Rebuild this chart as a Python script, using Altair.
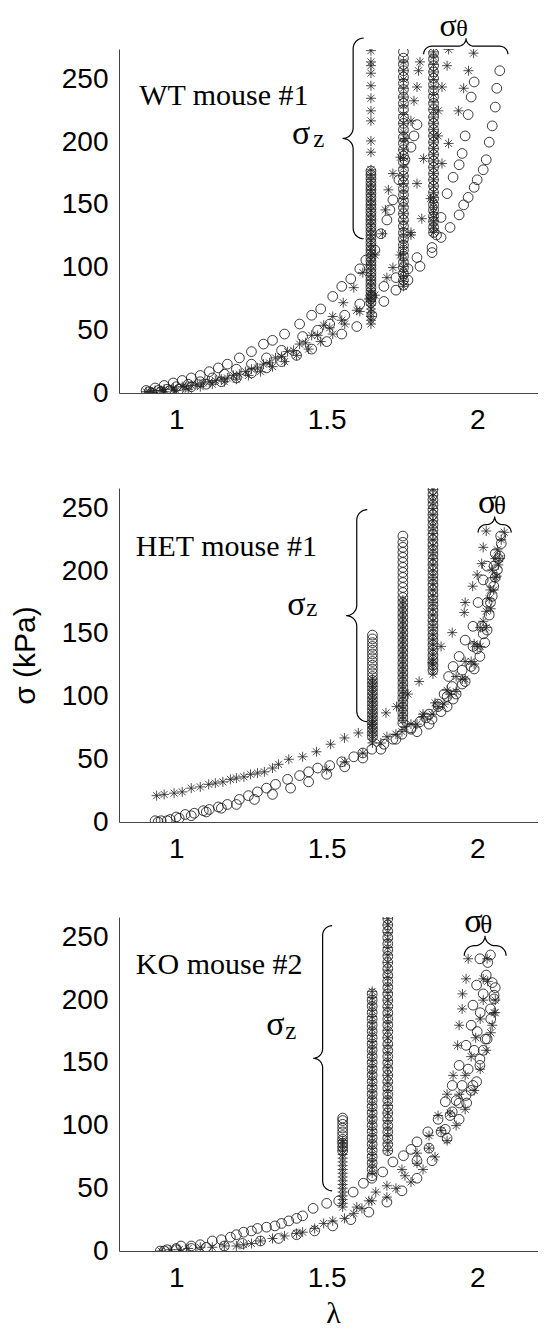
import altair as alt
import pandas as pd
import numpy as np

# ---------------- data ----------------
X_TICKS = [1, 1.5, 2]
Y_TICKS = [0, 50, 100, 150, 200, 250]

# ---- WT mouse #1 ----
WT_LZ = [1.647, 1.755, 1.855]
WT_C1_L = [0.90,0.93,0.96,0.99,1.02,1.05,1.08,1.11,1.14,1.17,1.21,1.25,1.29,1.32,1.36,1.41,1.45,1.48,1.52,1.55,1.58,1.61,1.63,1.66,1.68,1.70,1.71,1.72,1.74,1.76,1.78,1.79,1.80]
WT_C1_S = [2,4,6,8,10,12,14,17,20,23,28,33,39,42,47,55,62,67,77,85,91,99,106,114,127,138,146,154,170,186,196,205,214]
WT_C2_L = [0.91,0.94,0.97,1.00,1.04,1.08,1.12,1.16,1.20,1.25,1.30,1.35,1.42,1.47,1.51,1.56,1.61,1.65,1.69,1.73,1.77,1.80,1.85,1.865,1.88,1.90,1.92,1.94,1.95,1.96,1.97,1.98,1.99]
WT_C2_S = [1,2,3,5,7,9,12,15,19,23,28,34,45,50,55,62,71,77,85,92,99,108,116,126,140,159,172,182,191,205,222,236,248]
WT_C3_L = [0.92,0.95,0.98,1.01,1.05,1.10,1.15,1.20,1.25,1.30,1.35,1.40,1.45,1.50,1.55,1.60,1.65,1.69,1.73,1.77,1.81,1.85,1.88,1.91,1.94,1.955,1.97,1.99,2.00,2.02,2.03,2.04,2.05,2.06,2.065,2.075]
WT_C3_S = [0,1,2,3,5,7,9,12,16,20,25,30,35,41,47,53,62,73,82,90,101,112,124,132,142,150,156,164,170,178,186,200,213,228,243,257]
WT_CZ1 = [72,75,78,81,84,87,90,93,96,99,102,105,108,111,114,117,120,123,126,129,132,135,138,141,144,147,150,153,156,159,162,165,168,171,174,177]
WT_CZ2 = [86,90,95,100,104,109,114,118,123,128,133,138,143,148,153,158,163,168,173,178,184,189,194,199,204,210,215,220,226,231,236,242,247,252,257,262,267,272]
WT_CZ3 = [128,132,137,141,146,150,155,160,165,170,175,180,185,190,195,200,205,210,215,220,226,231,236,241,246,251,256,261,266,271]
WT_S1_L = [0.90,0.93,0.96,0.99,1.02,1.05,1.09,1.13,1.17,1.21,1.25,1.29,1.33,1.37,1.41,1.45,1.49,1.52,1.555,1.59,1.62,1.66,1.685,1.695,1.705,1.72,1.745,1.76,1.78,1.79,1.80,1.805,1.81]
WT_S1_S = [1,2,3,4,5,6,8,10,12,15,19,23,28,33,39,46,54,61,72,84,96,110,127,146,162,175,188,203,217,233,244,257,264]
WT_S2_L = [0.91,0.95,0.99,1.03,1.07,1.11,1.15,1.19,1.23,1.27,1.31,1.35,1.39,1.43,1.47,1.51,1.55,1.60,1.64,1.70,1.745,1.78,1.816,1.845,1.883,1.905,1.871,1.883,1.90,1.905]
WT_S2_S = [1,2,3,5,7,9,11,14,17,20,24,29,34,40,46,52,58,66,75,92,110,126,139,155,183,199,225,244,261,274]
WT_S3_L = [0.92,0.96,1.00,1.04,1.08,1.12,1.16,1.20,1.24,1.28,1.32,1.36,1.40,1.44,1.48,1.52,1.56,1.61,1.66,1.72,1.78,1.80,1.822,1.87,1.938,1.955,1.971,1.988]
WT_S3_S = [0,1,2,3,5,7,9,11,14,17,21,25,30,35,41,47,55,65,78,100,128,167,187,205,225,243,257,271]
WT_SZ1 = [55,58,61,64,67,70,73,76,79,82,86,90,94,98,102,106,110,114,118,122,126,130,134,138,142,146,150,154,158,162,166,170,174,178,192,201,217,225,235,245,255,261,264,273]
WT_SZ2 = [85,89,93,97,101,106,111,116,121,126,131,137,143,149,155,161,167,173,180,187,194,201,208,215,222,229,236,243,250,257,264]
WT_SZ3 = [128,131,134,137,140,144,148,152,156,160,165,170,175,180,185,190,195,200,205,210,215,220,226,232,238,244,250,256,262,268,272]

# ---- HET mouse #1 ----
HET_LZ = [1.652, 1.753, 1.853]
HET_C1_L = [0.93,0.95,0.98,1.00,1.03,1.06,1.09,1.11,1.14,1.17,1.21,1.24,1.27,1.30,1.33,1.37,1.41,1.44,1.47,1.51,1.55,1.59,1.62,1.65,1.69,1.72,1.75,1.78,1.81,1.84,1.87,1.89,1.905,1.92,1.94,1.96,1.986,2.003,2.02,2.033]
HET_C1_S = [1,1,2,4,6,7,9,10,12,14,18,21,24,27,30,34,37,40,43,45,48,52,55,58,62,66,70,75,80,86,94,102,116,124,132,145,156,175,193,204]
HET_C2_L = [0.94,0.97,1.01,1.05,1.10,1.15,1.20,1.26,1.32,1.38,1.44,1.50,1.56,1.62,1.68,1.73,1.78,1.83,1.87,1.90,1.917,1.95,1.986,2.015,2.033,2.044,2.056,2.06,2.078]
HET_C2_S = [0,1,3,5,8,11,14,18,22,27,32,38,44,51,58,66,74,83,92,100,108,121,140,156,175,191,204,214,228]
HET_C3_L = [1.80,1.85,1.90,1.93,1.96,1.99,2.009,2.025,2.033,2.044,2.055,2.067,2.075,2.08]
HET_C3_S = [72,82,92,102,112,122,132,143,153,175,188,201,212,222]
HET_C4_L = [1.84,1.88,1.92,1.95,1.98,2.00,2.02,2.04,2.05,2.06,2.07]
HET_C4_S = [78,88,98,110,124,138,150,165,180,195,210]
HET_CZ1 = [68,71,74,77,80,83,86,89,92,95,98,101,104,107,110,113,116,119,122,125,128,131,134,137,140,143,146,149]
HET_CZ2 = [79,83,87,91,95,99,103,107,111,115,119,123,127,131,135,139,143,147,151,155,159,163,167,171,175,179,183,187,191,195,199,203,207,211,215,219,223,228]
HET_CZ3 = [121,125,129,133,137,141,145,149,153,157,161,165,169,173,177,181,185,189,193,197,201,205,209,213,217,221,225,229,233,237,241,245,249,253,257,261,265]
HET_S1_L = [0.935,0.96,0.993,1.02,1.05,1.08,1.108,1.13,1.155,1.18,1.20,1.225,1.247,1.27,1.293,1.32,1.34,1.374,1.42,1.466,1.513,1.559,1.605,1.65,1.697,1.732,1.77,1.807,1.85,1.88,1.917,1.957,1.96,1.985,2.0,2.015,2.02,2.03]
HET_S1_S = [21,22,23,24,27,28,30,31,32,34,35,36,38,39,40,43,46,50,52,56,62,67,71,78,87,92,102,112,127,140,151,167,175,188,197,206,219,232]
HET_S2_L = [1.50,1.56,1.62,1.68,1.73,1.78,1.82,1.86,1.90,1.93,1.96,1.99,2.01,2.03,2.044,2.05,2.06,2.067,2.08,2.09]
HET_S2_S = [42,48,55,63,70,78,86,95,105,116,128,142,155,168,185,201,210,217,225,231]
HET_S3_L = [1.75,1.80,1.85,1.89,1.93,1.96,1.99,2.01,2.03,2.045,2.055,2.065,2.075]
HET_S3_S = [72,78,86,94,104,114,126,140,155,170,185,196,210]
HET_S4_L = [1.70,1.76,1.82,1.87,1.91,1.95,1.98,2.00,2.02,2.04,2.06,2.07]
HET_S4_S = [68,76,84,92,102,114,128,140,160,178,195,205]
HET_SZ1 = [63,66,69,72,75,78,81,84,87,90,93,96,99,102,105,108,111,114]
HET_SZ2 = [81,85,89,93,97,101,105,109,113,117,121,125,129,133,137,141,145,149,153,157,161,165,169,173,177]
HET_SZ3 = [118,122,126,130,134,138,142,146,150,155,160,165,170,175,180,185,190,195,200,205,210,215,220,225,230,235,240,245,250,255,260,265]

# ---- KO mouse #2 ----
KO_LZ = [1.553, 1.651, 1.703]
KO_C1_L = [0.947,0.97,1.00,1.016,1.05,1.08,1.12,1.15,1.18,1.20,1.224,1.25,1.27,1.30,1.328,1.35,1.374,1.40,1.42,1.455,1.50,1.54,1.588,1.622,1.65,1.686,1.72,1.755,1.78,1.80,1.836,1.87,1.894,1.917,1.94,1.963,1.98,1.986,1.998,2.009]
KO_C1_S = [0,1,2,4,4,5,8,9,11,13,15,16,18,19,20,22,24,26,28,34,38,40,47,54,58,63,71,76,81,87,95,105,119,132,148,164,180,196,212,233]
KO_C2_L = [0.96,1.00,1.05,1.10,1.16,1.22,1.28,1.34,1.40,1.46,1.52,1.58,1.64,1.70,1.75,1.80,1.85,1.90,1.94,1.965,1.986,2.009,2.027,2.044,2.056,2.05,2.044]
KO_C2_S = [0,1,2,3,4,6,8,10,13,16,20,25,31,39,48,58,72,90,105,118,132,148,169,193,204,214,236]
KO_C3_L = [1.894,1.917,1.94,1.963,1.98,1.998,2.009,2.02,2.033,2.045,2.056,2.06]
KO_C3_S = [97,111,118,124,128,135,153,160,169,185,201,210]
KO_C4_L = [1.80,1.84,1.88,1.91,1.93,1.95,1.97,1.99,2.00,2.01,2.02,2.03,2.035]
KO_C4_S = [72,82,95,108,120,132,145,160,175,190,205,220,230]
KO_CZ1 = [80,83,86,89,92,95,98,101,104,106]
KO_CZ2 = [60,65,70,75,80,85,90,95,100,105,110,115,120,125,130,135,140,145,150,155,160,165,170,175,180,185,190,195,200,205]
KO_CZ3 = [80,85,90,95,100,105,110,115,120,125,130,135,140,145,150,155,160,165,170,175,180,185,190,195,200,205,210,215,220,225,230,235,240,245,250,255,260,265]
KO_S1_L = [0.95,0.98,1.01,1.04,1.08,1.12,1.16,1.20,1.224,1.25,1.28,1.32,1.36,1.40,1.42,1.46,1.49,1.52,1.559,1.59,1.617,1.64,1.663,1.70,1.73]
KO_S1_S = [0,1,1,2,3,3,4,4,5,6,8,10,12,14,15,18,22,24,26,30,34,40,47,43,50]
KO_S2_L = [1.60,1.65,1.70,1.75,1.80,1.84,1.87,1.90,1.92,1.935,1.94,1.95,1.951,1.963,1.97]
KO_S2_S = [35,40,52,65,78,92,108,125,140,164,180,193,205,217,233]
KO_S3_L = [1.78,1.82,1.86,1.90,1.93,1.96,1.99,2.01,2.03,2.045,2.056,2.06,2.033,2.02]
KO_S3_S = [55,65,75,88,100,113,128,145,160,174,190,200,233,217]
KO_S4_L = [1.76,1.80,1.84,1.88,1.91,1.94,1.96,1.98,1.995,2.01,2.02,2.035,2.05,2.06]
KO_S4_S = [60,70,82,96,110,125,140,155,170,185,200,215,180,190]
KO_SZ1 = [35,38,41,44,47,50,53,56,59,62,65,68,71,74,77,80,83,86,88]
KO_SZ2 = [62,67,72,77,82,87,92,97,102,107,112,117,122,127,132,137,142,147,152,157,162,167,172,177,182,187,192,197,202,207]
KO_SZ3 = [80,86,92,98,104,110,116,122,128,134,140,146,152,158,164,170,176,182,188,194,200,206,212,218,224,230,236,242,248,254,260,265]

# annotation anchors (data coordinates): label, sigma_z, sigma_theta (+font sizes), braces
WT_TXT = dict(label=("WT mouse #1", 0.877, 230), sz=(1.385, 198.5, 1.455, 196.5),
              st=(1.875, 284.4, 1.93, 284.4, 32, 24),
              vb=(1.553, 203, 283, 123, 21), hb=(1.963, 282.9, 1.822, 2.102, 16))
HET_TXT = dict(label=("HET mouse #1", 0.866, 212.4), sz=(1.369, 165.3, 1.432, 164),
               st=(2.003, 246.7, 2.056, 245.5, 34, 25),
               vb=(1.565, 164.5, 249, 80, 21), hb=(2.058, 243.5, 2.003, 2.113, 16))
KO_TXT = dict(label=("KO mouse #2", 0.866, 221.1), sz=(1.299, 171.9, 1.362, 169.3),
              st=(1.957, 254.4, 2.01, 253.5, 34, 25),
              vb=(1.455, 153.7, 259.4, 48, 19), hb=(2.026, 251.4, 1.957, 2.096, 20))

# ---------------- helpers ----------------
PX_L = 301.0   # px per unit of lambda (for brace geometry)
PX_S = 1.254   # px per kPa
XDOM = [0.81, 2.202]
STAR = "M0,-1L0,1M-1,0L1,0M-0.7,-0.7L0.7,0.7M-0.7,0.7L0.7,-0.7"
SERIF = "Liberation Serif"
SANS = "Liberation Sans"


def pts(lams, sigs):
    n = min(len(lams), len(sigs))
    return [{"lam": lams[i], "sig": sigs[i]} for i in range(n)]


def col(lam, sigs):
    return [{"lam": lam, "sig": s} for s in sigs]


def half(h, d, n=10):
    r = d / 2.0
    t = np.linspace(0, np.pi / 2, n)
    p = [(h - r + r * np.cos(a), d - r * np.sin(a)) for a in t]
    p += [(r + (h - 2 * r) * (1 - k), r) for k in np.linspace(0, 1, 4)]
    p += [(r - r * np.sin(a), r * np.cos(a)) for a in t]
    return p


def brace_shape(h_up, h_dn, d):
    """(along, across) px points from the 'up' end through the tip to the 'down' end."""
    return half(h_up, d) + [(-a, c) for (a, c) in reversed(half(h_dn, d))]


def braces(spec, key):
    rows = []
    lt, sm, stop, sbot, d = spec["vb"]
    for k, (a, c) in enumerate(brace_shape((stop - sm) * PX_S, (sm - sbot) * PX_S, d)):
        rows.append({"lam": lt + c / PX_L, "sig": sm + a / PX_S, "k": k, "bid": key + "v"})
    lt, st, l0, l1, d = spec["hb"]
    for k, (a, c) in enumerate(brace_shape((l1 - lt) * PX_L, (lt - l0) * PX_L, d)):
        rows.append({"lam": lt + a / PX_L, "sig": st - c / PX_S, "k": k, "bid": key + "h"})
    return pd.DataFrame(rows)


def panel(circ, star, spec, key, ymax, height, ytitle_vis, xtitle):
    x = alt.X("lam:Q", scale=alt.Scale(domain=XDOM, nice=False, zero=False),
              axis=alt.Axis(values=X_TICKS, format="~g", ticks=False, grid=False, labelFont=SANS,
                            labelFontSize=28, labelColor="black", labelPadding=13,
                            domainColor="#444", domainWidth=1, title=xtitle, titleFont=SERIF,
                            titleFontSize=30, titleFontWeight="normal", titleColor="black",
                            titlePadding=6, titleX=214))
    y = alt.Y("sig:Q", scale=alt.Scale(domain=[0, ymax], nice=False, zero=False),
              axis=alt.Axis(values=Y_TICKS, ticks=False, grid=False, labelFont=SANS, labelFontSize=28,
                            labelColor="black", labelPadding=11, domainColor="#444", domainWidth=1,
                            title="σ (kPa)", titleFont=SANS, titleFontSize=30, titleFontWeight="normal",
                            titleColor="black", titlePadding=21, titleOpacity=1 if ytitle_vis else 0))
    c = alt.Chart(pd.DataFrame(circ)).mark_point(shape="circle", filled=False, size=95, strokeWidth=0.85,
                                                 color="#1a1a1a", opacity=1, clip=True).encode(x=x, y=y)
    s = alt.Chart(pd.DataFrame(star)).mark_point(shape=STAR, filled=False, size=100, strokeWidth=0.8,
                                                 color="#222222", opacity=1, clip=True).encode(x=x, y=y)
    b = alt.Chart(braces(spec, key)).mark_line(color="black", strokeWidth=1.2).encode(
        x=x, y=y, detail="bid:N", order="k:Q")
    lab, lx, ly = spec["label"]
    szl, szs, zl, zs = spec["sz"]
    stl, sts, tl, ts, fs_big, fs_small = spec["st"]
    greek = pd.DataFrame([
        {"lam": szl, "sig": szs, "t": "σ", "fs": 34},
        {"lam": zl, "sig": zs, "t": "z", "fs": 25},
        {"lam": stl, "sig": sts, "t": "σ", "fs": fs_big},
        {"lam": tl, "sig": ts, "t": "θ", "fs": fs_small},
    ])
    t1 = alt.Chart(pd.DataFrame([{"lam": lx, "sig": ly, "t": lab}])).mark_text(
        font=SERIF, fontSize=30, align="left", baseline="alphabetic", color="black").encode(x=x, y=y, text="t:N")
    t2 = alt.Chart(greek).mark_text(font=SERIF, align="left", baseline="alphabetic",
                                    color="black").encode(x=x, y=y, text="t:N",
                                                          size=alt.Size("fs:Q", scale=None))
    spacer = alt.Chart(pd.DataFrame([{"t": "."}])).mark_text(opacity=0, baseline="top", fontSize=10).encode(
        x=alt.value(200), y=alt.value(-40), text="t:N")
    return alt.layer(c, s, b, t1, t2, spacer).properties(width=419, height=height)


wt_c = pts(WT_C1_L, WT_C1_S) + pts(WT_C2_L, WT_C2_S) + pts(WT_C3_L, WT_C3_S) + \
    col(WT_LZ[0], WT_CZ1) + col(WT_LZ[1], WT_CZ2) + col(WT_LZ[2], WT_CZ3)
wt_s = pts(WT_S1_L, WT_S1_S) + pts(WT_S2_L, WT_S2_S) + pts(WT_S3_L, WT_S3_S) + \
    col(WT_LZ[0], WT_SZ1) + col(WT_LZ[1], WT_SZ2) + col(WT_LZ[2], WT_SZ3)
het_c = pts(HET_C1_L, HET_C1_S) + pts(HET_C2_L, HET_C2_S) + pts(HET_C3_L, HET_C3_S) + pts(HET_C4_L, HET_C4_S) + \
    col(HET_LZ[0], HET_CZ1) + col(HET_LZ[1], HET_CZ2) + col(HET_LZ[2], HET_CZ3)
het_s = pts(HET_S1_L, HET_S1_S) + pts(HET_S2_L, HET_S2_S) + pts(HET_S3_L, HET_S3_S) + pts(HET_S4_L, HET_S4_S) + \
    col(HET_LZ[0], HET_SZ1) + col(HET_LZ[1], HET_SZ2) + col(HET_LZ[2], HET_SZ3)
ko_c = pts(KO_C1_L, KO_C1_S) + pts(KO_C2_L, KO_C2_S) + pts(KO_C3_L, KO_C3_S) + pts(KO_C4_L, KO_C4_S) + \
    col(KO_LZ[0], KO_CZ1) + col(KO_LZ[1], KO_CZ2) + col(KO_LZ[2], KO_CZ3)
ko_s = pts(KO_S1_L, KO_S1_S) + pts(KO_S2_L, KO_S2_S) + pts(KO_S3_L, KO_S3_S) + pts(KO_S4_L, KO_S4_S) + \
    col(KO_LZ[0], KO_SZ1) + col(KO_LZ[1], KO_SZ2) + col(KO_LZ[2], KO_SZ3)

p1 = panel(wt_c, wt_s, WT_TXT, "wt", 274.3, 344, False, None)
p2 = panel(het_c, het_s, HET_TXT, "het", 266.3, 334, True, None)
p3 = panel(ko_c, ko_s, KO_TXT, "ko", 266.3, 334, False, "λ")

chart = alt.vconcat(p1, p2, p3, spacing=14).properties(
    padding={"left": 2, "top": 1, "right": 0, "bottom": 0},
    background="white",
).configure_view(stroke=None)

chart.save("out.html", embed_options={"renderer": "svg", "actions": False})
